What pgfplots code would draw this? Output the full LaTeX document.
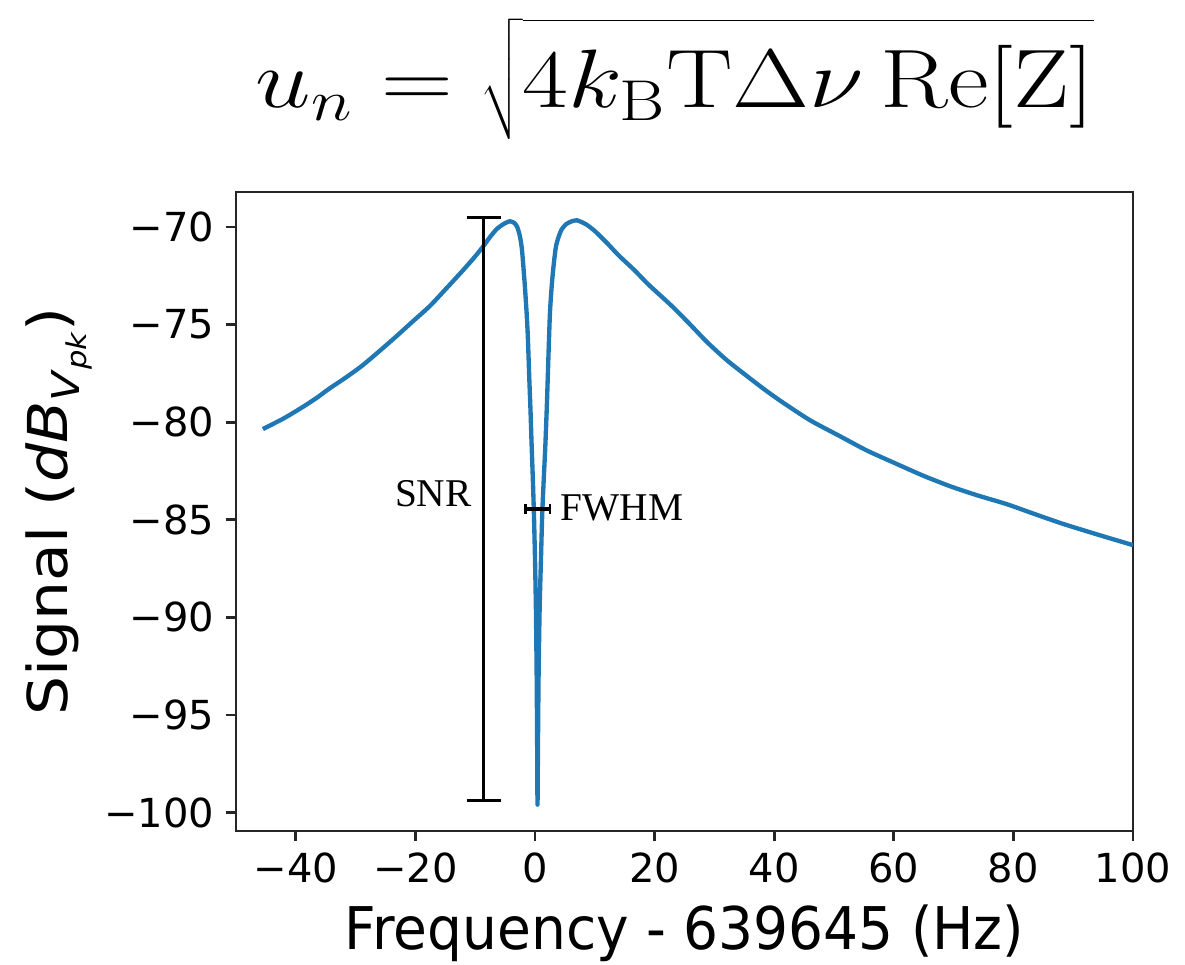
\documentclass[border=0pt]{standalone}
\usepackage[no-math]{fontspec}
\setmainfont{DejaVu Sans}
\newfontfamily\annfont{Liberation Serif}
\usepackage{pgfplots}
\pgfplotsset{compat=1.18}
\definecolor{mplblue}{HTML}{1F77B4}

\pgfplotstableread{
x y
-45.5 -80.35
-42 -79.8
-39 -79.25
-36.5 -78.75
-34.5 -78.3
-31.5 -77.68
-28.9 -77.1
-26 -76.35
-23.2 -75.6
-20.5 -74.85
-17.6 -74.05
-15 -73.2
-12 -72.2
-10 -71.5
-8.7 -71.0
-7.5 -70.5
-6.4 -70.1
-5.3 -69.85
-4.2 -69.7
-3.4 -69.8
-2.9 -70.05
-2.5 -70.5
-2.2 -71.1
-2.0 -71.8
-1.7 -73.0
-1.4 -74.4
-1.2 -75.6
-0.95 -77.8
-0.75 -79.4
-0.56 -81.2
-0.35 -83.0
-0.17 -84.8
0.0 -87.0
0.15 -89.5
0.28 -93.0
0.36 -96.5
0.42 -99.6
0.5 -96.5
0.6 -93.0
0.78 -89.5
1.0 -87.0
1.2 -84.8
1.45 -83.0
1.73 -81.2
2.0 -79.0
2.25 -76.6
2.5 -74.4
2.8 -73.0
3.1 -72.0
3.5 -71.0
4.0 -70.45
4.5 -70.1
5.2 -69.85
6.0 -69.72
7.0 -69.65
8.5 -69.85
10 -70.2
12 -70.8
14 -71.45
16.6 -72.2
19 -72.95
22.9 -74.05
25.5 -74.85
28.8 -75.9
32 -76.8
35.3 -77.6
38.5 -78.35
41.5 -79.0
46 -79.9
50.9 -80.7
55.5 -81.45
60.2 -82.1
65 -82.75
69.6 -83.3
74 -83.75
78.9 -84.2
83.5 -84.7
88.2 -85.2
94 -85.75
100 -86.3
}\spectrum

\begin{document}
\begin{tikzpicture}
\useasboundingbox (-70.8pt,-39.9pt) rectangle (284.7pt,249.3pt);
\begin{axis}[
  scale only axis, width=269.1pt, height=191.7pt,
  xmin=-50, xmax=100, ymin=-100.95, ymax=-68.2,
  axis line style={line width=0.8pt, black!85},
  tick align=outside, major tick length=3pt,
  tick style={line width=0.8pt, black!85},
  xtick pos=bottom, ytick pos=left,
  xtick={-40,-20,...,100},
  xticklabels={−40,−20,0,20,40,60,80,100},
  ytick={-100,-95,...,-70},
  yticklabels={−100,−95,−90,−85,−80,−75,−70},
  ticklabel style={font=\fontsize{12}{14}\selectfont},
  label style={font=\fontsize{16.5}{18}\selectfont},
  xlabel={\scalebox{1}[1.07]{Frequency - 639645 (Hz)}},
  xlabel style={at={(axis description cs:0.5,-0.186)}, anchor=base, inner sep=0pt},
  ylabel={\scalebox{1.12}[1]{Signal (\textit{dB}\raisebox{-0.4ex}{\fontsize{11.5}{12}\selectfont\textit{V}\raisebox{-0.35ex}{\fontsize{8.2}{9}\selectfont\textit{pk}}})}},
  ylabel style={at={(axis description cs:-0.1594,0.5)}, anchor=south, inner sep=0pt},
]
\addplot[mplblue, line width=1.3pt, line join=round, mark=none, smooth, tension=0.4] table {\spectrum};
\addplot[black, mark=none, forget plot,
  error bars/.cd, y dir=both, y explicit,
  error bar style={black, line width=1pt},
  error mark options={black, line width=1pt, mark size=5.1pt, rotate=90}]
  coordinates {(-8.6,-84.45) +- (0,14.95)};
\addplot[black, mark=none, forget plot,
  error bars/.cd, x dir=both, x explicit,
  error bar style={black, line width=1pt},
  error mark options={black, line width=0.8pt, mark size=1.4pt, rotate=90}]
  coordinates {(0.45,-84.44) +- (2.05,0)};
\node[font=\annfont\fontsize{11.8}{13}\selectfont, anchor=east, inner sep=0pt] at (axis cs:-10.5,-83.65) {SNR};
\node[font=\annfont\fontsize{11.8}{13}\selectfont, anchor=west, inner sep=0pt] at (axis cs:4.2,-84.4) {FWHM};
\end{axis}
\node[anchor=base west, inner sep=0pt, font=\fontsize{23}{27}\selectfont] at (5.7pt,216.9pt)
  {\scalebox{1.2}[1]{$u_n = \sqrt{\vphantom{\rule[-0.4em]{0pt}{1.5em}}4k_{\mathrm{B}}\mathrm{T}\Delta\nu\,\mathrm{Re}[\mathrm{Z}]}$}};
\end{tikzpicture}
\end{document}
